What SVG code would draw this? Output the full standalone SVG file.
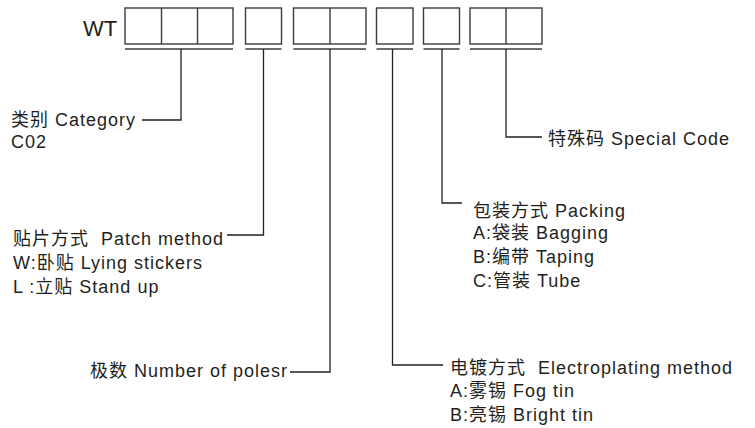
<svg xmlns="http://www.w3.org/2000/svg" width="755" height="428" viewBox="0 0 755 428">
<style>
text{font-family:"Liberation Sans","Noto Sans CJK SC",sans-serif;font-size:18px;fill:#231f20;letter-spacing:1px}
.box{fill:#fff;stroke:#3c3a3a;stroke-width:1.4}
.ul{stroke:#6e6c6c;stroke-width:1.8;fill:none}
.ln{stroke:#231f20;stroke-width:1.3;fill:none}
</style>
<rect width="755" height="428" fill="#fff"/>
<g id="code">
<text x="83" y="36" style="font-size:22px;letter-spacing:0">WT</text>
<rect class="box" x="125" y="8" width="108" height="36"/>
<line class="box" x1="161.5" y1="8" x2="161.5" y2="44"/>
<line class="box" x1="197.5" y1="8" x2="197.5" y2="44"/>
<rect class="box" x="245.5" y="8" width="36" height="36"/>
<rect class="box" x="293.5" y="8" width="72.5" height="36"/>
<line class="box" x1="330" y1="8" x2="330" y2="44"/>
<rect class="box" x="376.5" y="8" width="36.5" height="36"/>
<rect class="box" x="423.5" y="8" width="36" height="36"/>
<rect class="box" x="470" y="8" width="72" height="36"/>
<line class="box" x1="506" y1="8" x2="506" y2="44"/>
</g>
<g id="connectors">
<line class="ul" x1="125" y1="49" x2="233" y2="49"/>
<line class="ul" x1="245.5" y1="49" x2="281.5" y2="49"/>
<line class="ul" x1="293.5" y1="49" x2="366" y2="49"/>
<line class="ul" x1="376.5" y1="49" x2="413" y2="49"/>
<line class="ul" x1="423.5" y1="49" x2="459.5" y2="49"/>
<line class="ul" x1="470" y1="49" x2="542" y2="49"/>
<polyline class="ln" points="181,49 181,120 142,120"/>
<polyline class="ln" points="263.5,49 263.5,235 227,235"/>
<polyline class="ln" points="330,49 330,372 290,372"/>
<polyline class="ln" points="392.5,49 392.5,365 443,365"/>
<polyline class="ln" points="442,49 442,203 462,203"/>
<polyline class="ln" points="506,49 506,137 542,137"/>
</g>
<g id="category">
<text x="11" y="126">类别 Category</text>
<text x="11" y="148">C02</text>
</g>
<g id="patch">
<text x="13" y="245" xml:space="preserve">贴片方式  Patch method</text>
<text x="13" y="268.5">W:卧贴 Lying stickers</text>
<text x="13" y="292.5" xml:space="preserve">L :立贴 Stand up</text>
</g>
<g id="poles">
<text x="90" y="377">极数 Number of polesr</text>
</g>
<g id="electroplating">
<text x="450" y="373.5" xml:space="preserve">电镀方式  Electroplating method</text>
<text x="450" y="397">A:雾锡 Fog tin</text>
<text x="450" y="421">B:亮锡 Bright tin</text>
</g>
<g id="packing">
<text x="473" y="216.5">包装方式 Packing</text>
<text x="473" y="239">A:袋装 Bagging</text>
<text x="473" y="263">B:编带 Taping</text>
<text x="473" y="287">C:管装 Tube</text>
</g>
<g id="special">
<text x="548" y="145">特殊码 Special Code</text>
</g>
</svg>
